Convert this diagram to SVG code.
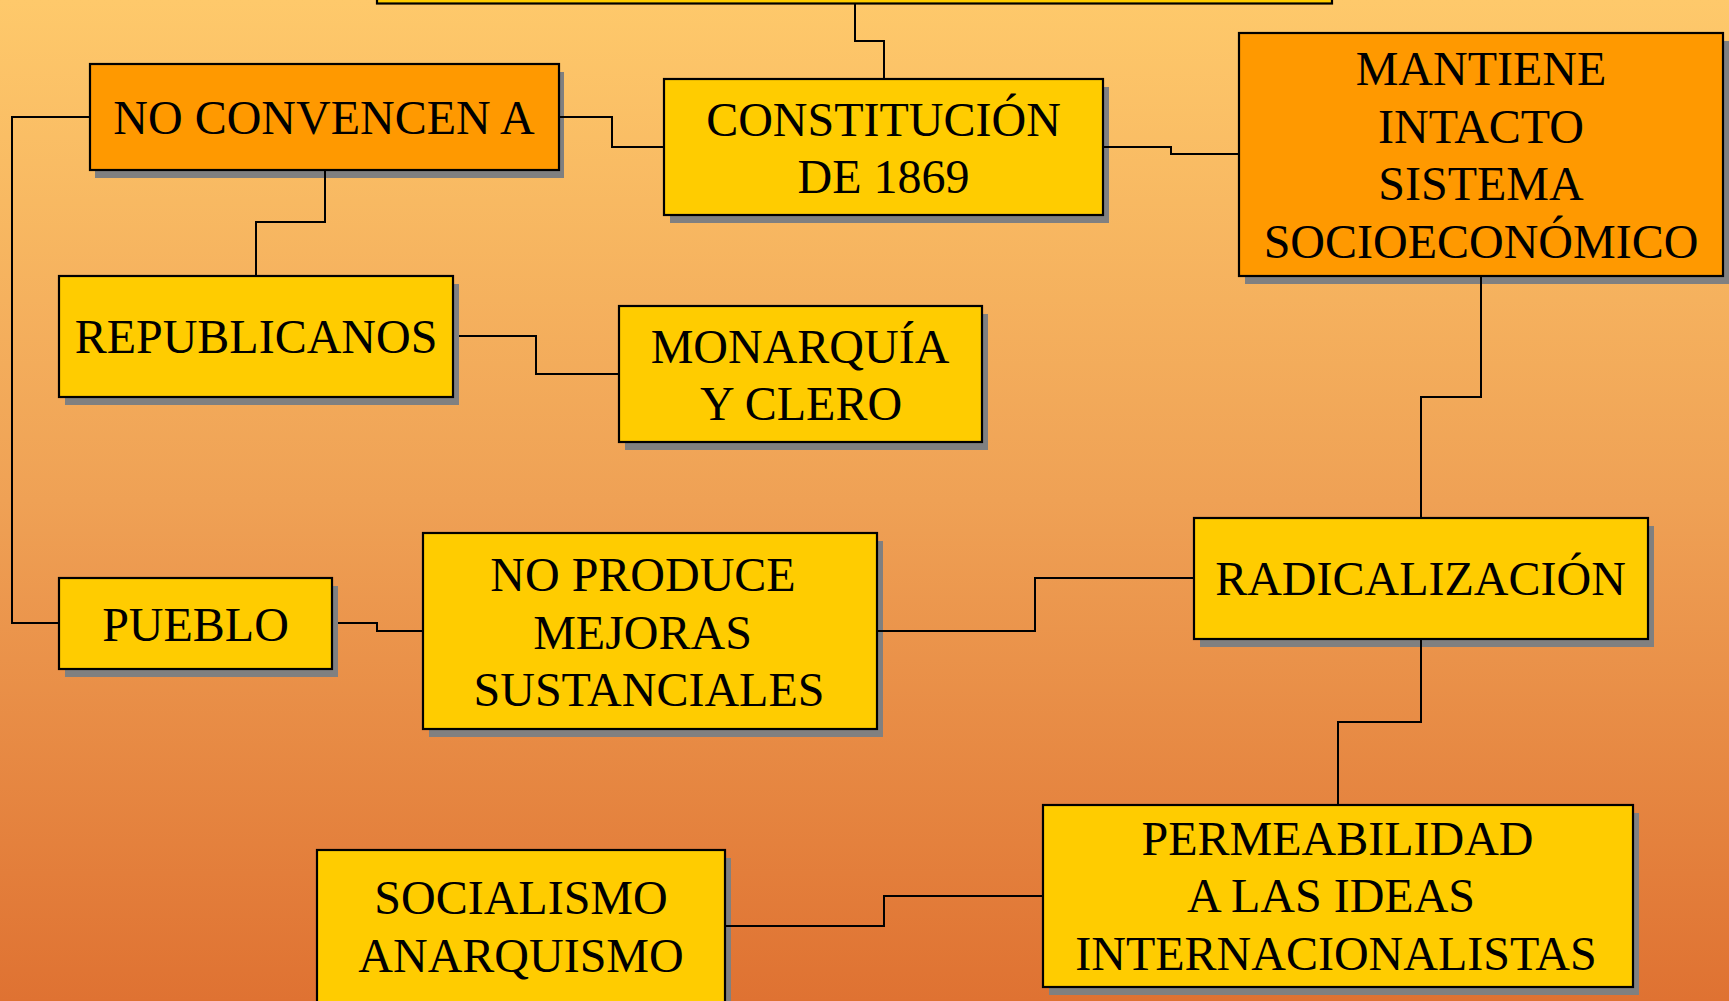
<svg xmlns="http://www.w3.org/2000/svg" width="1729" height="1001" viewBox="0 0 1729 1001">
<defs>
<linearGradient id="bg" x1="0" y1="0" x2="0" y2="1">
<stop offset="0" stop-color="#FEC96B"/>
<stop offset="0.5" stop-color="#EFA155"/>
<stop offset="1" stop-color="#DF7232"/>
</linearGradient>
<style>
.sh{fill:#808080}
.y{fill:#FFCC00;stroke:#000;stroke-width:2.2}
.o{fill:#FF9900;stroke:#000;stroke-width:2.2}
.t{font-family:"Liberation Serif","Times New Roman",serif;font-size:48px;fill:#000;text-anchor:middle}
.c{fill:none;stroke:#000;stroke-width:2}
</style>
</defs>
<rect x="0" y="0" width="1729" height="1001" fill="url(#bg)"/>
<g id="top">
<rect class="y" x="377" y="-60" width="955" height="63.5"/>
</g>
<g id="noconvencen">
<rect class="sh" x="95" y="72" width="469" height="106"/>
<rect class="o" x="90" y="64" width="469" height="106"/>
<text class="t" x="324" y="134">NO CONVENCEN A</text>
</g>
<g id="constitucion">
<rect class="sh" x="670" y="87" width="439" height="136"/>
<rect class="y" x="664" y="79" width="439" height="136"/>
<text class="t" x="883.5" y="136">CONSTITUCIÓN</text>
<text class="t" x="883.5" y="193">DE 1869</text>
</g>
<g id="mantiene">
<rect class="sh" x="1245" y="41" width="484" height="243"/>
<rect class="o" x="1239" y="33" width="484" height="243"/>
<text class="t" x="1481" y="85">MANTIENE</text>
<text class="t" x="1481" y="142.5">INTACTO</text>
<text class="t" x="1481" y="200">SISTEMA</text>
<text class="t" x="1481" y="257.5">SOCIOECONÓMICO</text>
</g>
<g id="republicanos">
<rect class="sh" x="65" y="284" width="394" height="121"/>
<rect class="y" x="59" y="276" width="394" height="121"/>
<text class="t" x="256" y="353">REPUBLICANOS</text>
</g>
<g id="monarquia">
<rect class="sh" x="625" y="314" width="363" height="136"/>
<rect class="y" x="619" y="306" width="363" height="136"/>
<text class="t" x="800" y="363">MONARQUÍA</text>
<text class="t" x="801" y="420">Y CLERO</text>
</g>
<g id="pueblo">
<rect class="sh" x="65" y="586" width="273" height="91"/>
<rect class="y" x="59" y="578" width="273" height="91"/>
<text class="t" x="195.5" y="641">PUEBLO</text>
</g>
<g id="noproduce">
<rect class="sh" x="429" y="541" width="454" height="196"/>
<rect class="y" x="423" y="533" width="454" height="196"/>
<text class="t" x="643" y="590.5">NO PRODUCE</text>
<text class="t" x="642.5" y="648.5">MEJORAS</text>
<text class="t" x="649" y="705.5">SUSTANCIALES</text>
</g>
<g id="radicalizacion">
<rect class="sh" x="1200" y="526" width="454" height="121"/>
<rect class="y" x="1194" y="518" width="454" height="121"/>
<text class="t" x="1420.5" y="595">RADICALIZACIÓN</text>
</g>
<g id="permeabilidad">
<rect class="sh" x="1049" y="813" width="590" height="182"/>
<rect class="y" x="1043" y="805" width="590" height="182"/>
<text class="t" x="1337.5" y="855">PERMEABILIDAD</text>
<text class="t" x="1331" y="912">A LAS IDEAS</text>
<text class="t" x="1336" y="970">INTERNACIONALISTAS</text>
</g>
<g id="socialismo">
<rect class="sh" x="323" y="858" width="408" height="200"/>
<rect class="y" x="317" y="850" width="408" height="200"/>
<text class="t" x="521" y="914">SOCIALISMO</text>
<text class="t" x="521" y="972">ANARQUISMO</text>
</g>
<g id="connectors">
<path class="c" d="M855 4 V41 H884 V78"/>
<path class="c" d="M560 117 H612 V147 H663"/>
<path class="c" d="M1104 147 H1171 V154 H1238"/>
<path class="c" d="M325 171 V222 H256 V275"/>
<path class="c" d="M89 117 H12 V623 H58"/>
<path class="c" d="M459 336 H536 V374 H618"/>
<path class="c" d="M1481 277 V397 H1421 V517"/>
<path class="c" d="M338 623 H377 V631 H422"/>
<path class="c" d="M878 631 H1035 V578 H1193"/>
<path class="c" d="M1421 640 V722 H1338 V804"/>
<path class="c" d="M726 926 H884 V896 H1042"/>
</g>
</svg>
